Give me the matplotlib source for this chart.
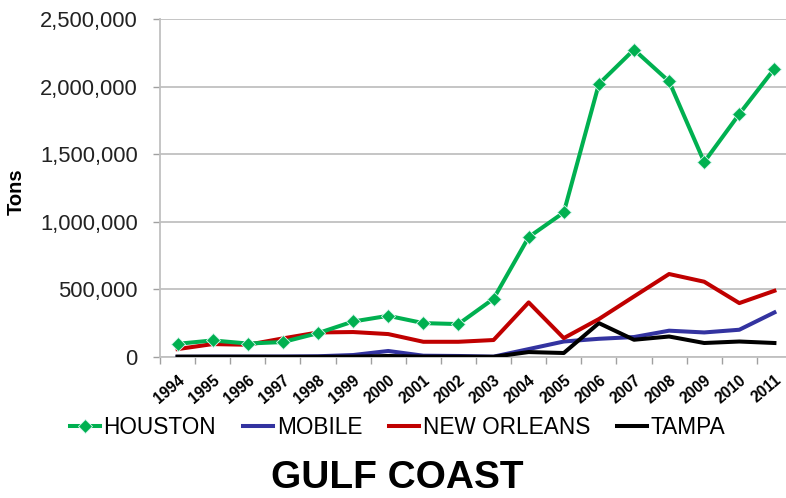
import matplotlib.pyplot as plt
from matplotlib.ticker import FuncFormatter
import numpy as np

plt.rcParams['font.family'] = ['Liberation Sans', 'DejaVu Sans']

years = [str(y) for y in range(1994, 2012)]
houston = [98000, 123000, 100000, 111000, 177000, 263000, 305000, 251000, 244000,
           431000, 887000, 1069000, 2019000, 2273000, 2038000, 1442000, 1797000, 2132000]
mobile = [2000, 3000, 3000, 4000, 6000, 15000, 45000, 10000, 8000,
          3000, 59000, 115000, 135000, 148000, 195000, 182000, 202000, 330000]
new_orleans = [59000, 96000, 91000, 138000, 182000, 185000, 170000, 113000, 113000,
               126000, 404000, 140000, 281000, 448000, 614000, 557000, 399000, 490000]
tampa = [3000, 3000, 3000, 2000, 2000, 3000, 8000, 3000, 3000,
         2000, 37000, 30000, 251000, 128000, 152000, 104000, 115000, 104000]

fig = plt.figure(figsize=(7.86, 4.98), dpi=100)
ax = fig.add_axes([0.2036, 0.283, 0.804, 0.679])

x = np.arange(len(years))
lw = 2.9
ax.plot(x, houston, color='#00b050', lw=lw, marker='D', markersize=7,
        markeredgecolor='#d8f5f0', markeredgewidth=0.6, label='HOUSTON', zorder=5)
ax.plot(x, mobile, color='#3333a0', lw=lw, label='MOBILE', zorder=3)
ax.plot(x, new_orleans, color='#c00000', lw=lw, label='NEW ORLEANS', zorder=4)
ax.plot(x, tampa, color='black', lw=lw, label='TAMPA', zorder=3)

ax.set_xlim(-0.5, len(years) - 0.5)
ax.set_ylim(0, 2500000)
ax.set_yticks(np.arange(0, 2500001, 500000))
ax.yaxis.set_major_formatter(FuncFormatter(lambda v, p: f'{int(v):,}'))
ax.tick_params(axis='y', labelsize=15.8, colors='#a0a0a0', labelcolor='#222222',
               length=5, width=1, pad=11)
ax.grid(axis='y', color='#c0c0c0', lw=1.3)
ax.set_axisbelow(True)

# category ticks on the boundaries, labels centred on each year
ax.set_xticks(np.arange(-0.5, len(years), 1))
ax.set_xticklabels([])
ax.set_xticks(x, minor=True)
ax.set_xticklabels(years, minor=True, rotation=40, ha='right', va='top',
                   rotation_mode='anchor', fontsize=11.2, fontweight='bold')
ax.tick_params(axis='x', which='major', length=5, width=1, colors='#a0a0a0')
ax.tick_params(axis='x', which='minor', length=0, pad=11)
for lab in ax.get_xticklabels(minor=True):
    lab.set_x(lab.get_position()[0])

for side in ['top', 'right']:
    ax.spines[side].set_visible(False)
ax.spines['left'].set_color('#c0c0c0')
ax.spines['bottom'].set_color('#c0c0c0')
ax.spines['left'].set_linewidth(1.3)
ax.spines['bottom'].set_linewidth(1.3)

ax.set_ylabel('Tons', fontsize=14.5, fontweight='bold')
ax.yaxis.set_label_coords(-0.213, 0.49)

fig.legend(loc='center', bbox_to_anchor=(0.506, 0.142), ncol=4, frameon=False,
           fontsize=16.3, handlelength=1.33, handletextpad=0.15, columnspacing=1.2)

fig.text(0.505, 0.04, 'GULF COAST', ha='center', va='center',
         fontsize=28, fontweight='bold')

fig.savefig('out.png', dpi=100)
